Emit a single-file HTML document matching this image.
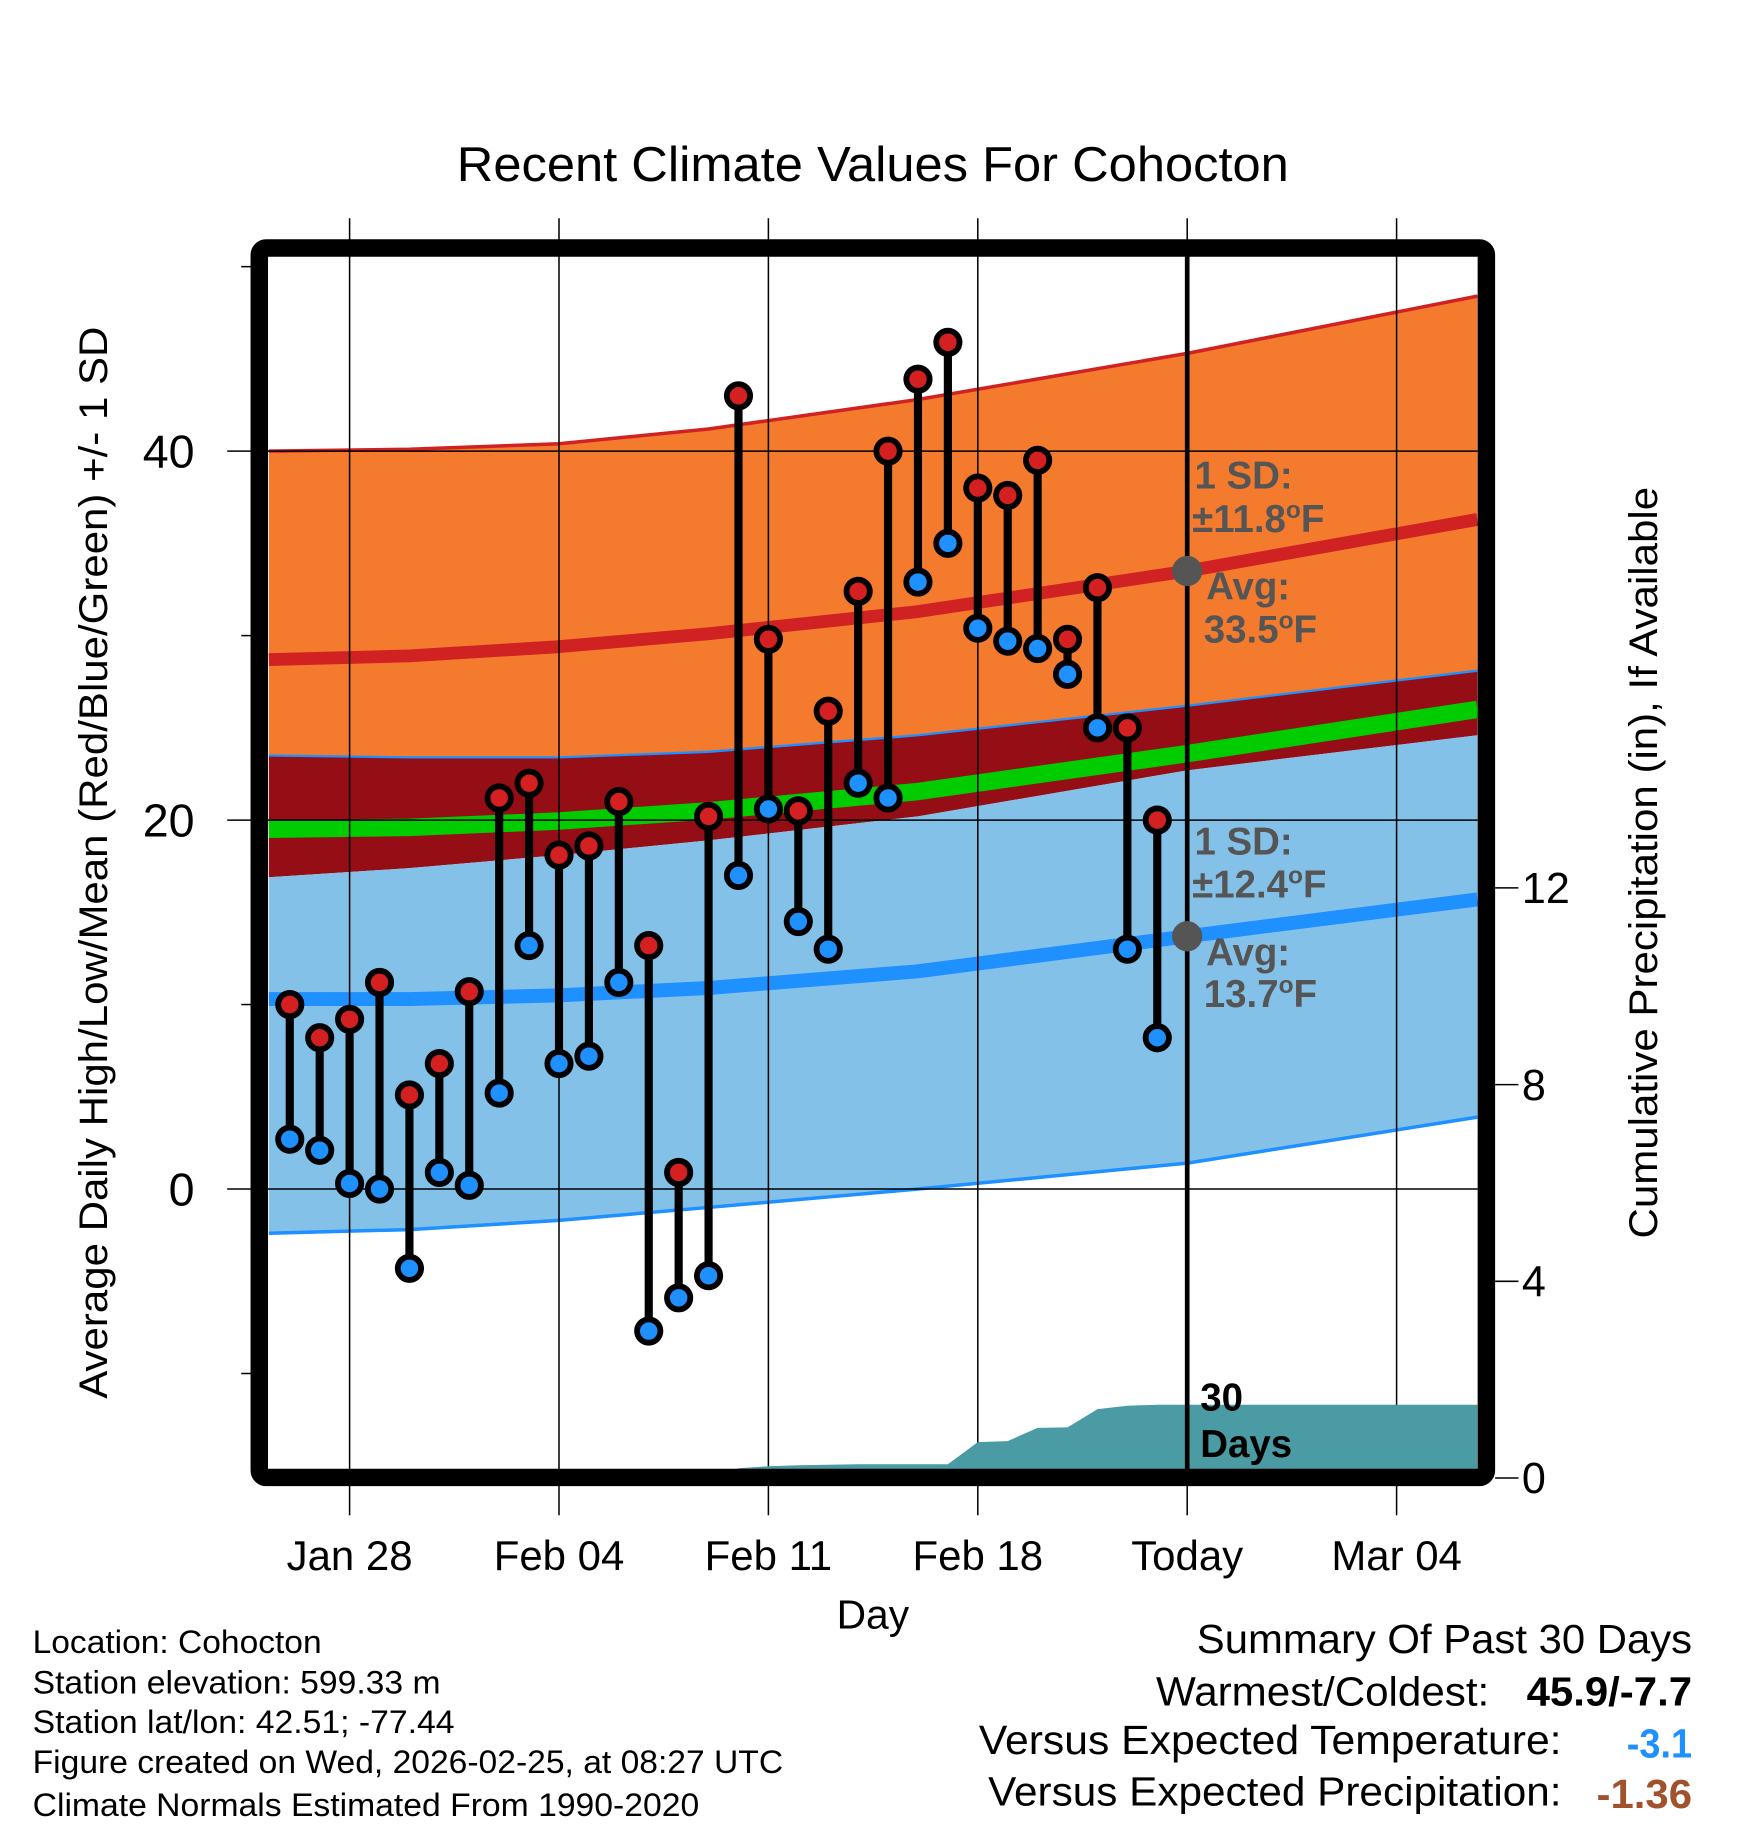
<!DOCTYPE html>
<html><head><meta charset="utf-8"><style>
html,body{margin:0;padding:0;background:#fff}
svg{display:block;font-family:"Liberation Sans",Arial,sans-serif}
</style></head><body>
<svg id="chart" width="1748" height="1828" viewBox="0 0 1500 1568" xmlns="http://www.w3.org/2000/svg">
<defs><clipPath id="plotclip"><rect x="229" y="219" width="1040" height="1042"/></clipPath></defs>
<rect width="1500" height="1568" fill="#fff"/>
<text x="392" y="155" font-size="42" textLength="714" lengthAdjust="spacingAndGlyphs">Recent Climate Values For Cohocton</text>
<g id="bands" clip-path="url(#plotclip)"></g>
<g id="grid"></g>
<g id="precip" clip-path="url(#plotclip)"></g>
<g id="marks"></g>
<g id="ann" font-weight="bold" fill="#555" font-size="33">
<text x="1025" y="419">1 SD:</text>
<text x="1023" y="456">±11.8<tspan dy="-12" font-size="21">o</tspan><tspan dy="12">F</tspan></text>
<text x="1035" y="514">Avg:</text>
<text x="1033" y="551">33.5<tspan dy="-12" font-size="21">o</tspan><tspan dy="12">F</tspan></text>
<text x="1025" y="733">1 SD:</text>
<text x="1023" y="770">±12.4<tspan dy="-12" font-size="21">o</tspan><tspan dy="12">F</tspan></text>
<text x="1035" y="828">Avg:</text>
<text x="1033" y="864">13.7<tspan dy="-12" font-size="21">o</tspan><tspan dy="12">F</tspan></text>
</g>
<text x="1030" y="1210" font-size="33" font-weight="bold">30</text>
<text x="1030" y="1250" font-size="33" font-weight="bold">Days</text>
<rect x="222.5" y="212.5" width="1053" height="1055" rx="6" fill="none" stroke="#000" stroke-width="15"/>
<g id="labels"></g>
<text transform="translate(92,740) rotate(-90)" font-size="34" text-anchor="middle" textLength="920" lengthAdjust="spacingAndGlyphs">Average Daily High/Low/Mean (Red/Blue/Green) +/- 1 SD</text>
<text transform="translate(1422,740) rotate(-90)" font-size="34" text-anchor="middle" textLength="645" lengthAdjust="spacingAndGlyphs">Cumulative Precipitation (in), If Available</text>
<text x="749" y="1397" font-size="35" text-anchor="middle">Day</text>
<g font-size="28" lengthAdjust="spacingAndGlyphs">
<text x="28" y="1418" textLength="248" lengthAdjust="spacingAndGlyphs">Location: Cohocton</text>
<text x="28" y="1453" textLength="350" lengthAdjust="spacingAndGlyphs">Station elevation: 599.33 m</text>
<text x="28" y="1487" textLength="362" lengthAdjust="spacingAndGlyphs">Station lat/lon: 42.51; -77.44</text>
<text x="28" y="1521" textLength="644" lengthAdjust="spacingAndGlyphs">Figure created on Wed, 2026-02-25, at 08:27 UTC</text>
<text x="28" y="1558" textLength="572" lengthAdjust="spacingAndGlyphs">Climate Normals Estimated From 1990-2020</text>
</g>
<g font-size="35">
<text x="1027" y="1418" textLength="425" lengthAdjust="spacingAndGlyphs">Summary Of Past 30 Days</text>
<text x="992" y="1463" textLength="286" lengthAdjust="spacingAndGlyphs">Warmest/Coldest:</text>
<text x="1310" y="1463" textLength="142" lengthAdjust="spacingAndGlyphs" font-weight="bold">45.9/-7.7</text>
<text x="840" y="1505" textLength="500" lengthAdjust="spacingAndGlyphs">Versus Expected Temperature:</text>
<text x="1396" y="1508" textLength="56" lengthAdjust="spacingAndGlyphs" font-weight="bold" fill="#1e90ff">-3.1</text>
<text x="848" y="1549" textLength="492" lengthAdjust="spacingAndGlyphs">Versus Expected Precipitation:</text>
<text x="1370" y="1551" textLength="82" lengthAdjust="spacingAndGlyphs" font-weight="bold" fill="#a0522d">-1.36</text>
</g>
</svg>
<script>
const days = [-2,-1,0,1,2,3,4,5,6,7,8,9,10,11,12,13,14,15,16,17,18,19,20,21,22,23,24,25,26,27];
const highs = [10,8.2,9.2,11.2,5.1,6.8,10.7,21.2,22,18.1,18.6,21,13.2,0.9,20.2,43,29.8,20.5,25.9,32.4,40,43.9,45.9,38,37.6,39.5,29.8,32.6,25,20];
const lows = [2.7,2.1,0.3,0,-4.3,0.9,0.2,5.2,13.2,6.8,7.2,11.2,-7.7,-5.9,-4.7,17,20.6,14.5,13,22,21.2,32.9,35,30.4,29.7,29.3,27.9,25,13,8.2];
const precipDays = [12,13,14,15,16,17,18,19,20,21,22,23,24,25,26,27,28,37.7];
const precipVals = [0,0.2,0.24,0.26,0.27,0.28,0.28,0.28,0.28,0.73,0.75,1.02,1.03,1.4,1.47,1.49,1.49,1.49];
const normDays = [-2.7,2,7,12,19,28,37.7];
const hiPlus = [40,40.1,40.4,41.2,42.8,45.3,48.4];
const hiMean = [28.7,28.9,29.4,30.1,31.3,33.5,36.3];
const hiMinus = [23.5,23.4,23.4,23.7,24.6,26.2,28.1];
const loPlus = [16.9,17.4,18.1,18.9,20.2,22.7,24.6];
const loMean = [10.3,10.3,10.5,10.9,11.8,13.7,15.7];
const loMinus = [-2.4,-2.2,-1.7,-1.0,0.0,1.4,3.9];
const xTickDays = [0,7,14,21,28,35];
const xTickLabels = ['Jan 28','Feb 04','Feb 11','Feb 18','Today','Mar 04'];
const yTicks = [0,20,40];
const yMinor = [-10,10,30,50];
const pTicks = [0,4,8,12];

const X = d => 300 + (d) * 25.67;
const Y = t => 1020 - t * 15.83;
const P = p => 1268 - p * 42.2;
const NS = 'http://www.w3.org/2000/svg';
function mk(tag, parent, attrs){const e=document.createElementNS(NS,tag);for(const k in attrs)e.setAttribute(k,attrs[k]);parent.appendChild(e);return e;}
const pts = (ds, vs, f) => ds.map((d,i)=>X(d).toFixed(1)+','+f(vs[i]).toFixed(1));

const bands = document.getElementById('bands');
function band(top, bot, fill, name){
  const p = pts(normDays, top, Y).concat(pts(normDays, bot, Y).reverse());
  const e = mk('polygon', bands, {points:p.join(' '), fill:fill});
  
  
}
function line(vals, color, w, name){
  const e = mk('polyline', bands, {points:pts(normDays, vals, Y).join(' '), fill:'none', stroke:color, 'stroke-width':w, 'stroke-linejoin':'round'});
  
  
}
band(hiPlus, hiMinus, '#f47a2e', 'high-sd-band');
band(hiMinus, loPlus, '#950d15', 'overlap-band');
band(loPlus, loMinus, '#84c1e8', 'low-sd-band');
const meanAll = hiMean.map((v,i)=>(v+loMean[i])/2);
line(meanAll, '#00cc00', 15, 'mean-line');
line(hiPlus, '#d02222', 3, 'high-plus-sd-line');
line(hiMean, '#d02222', 11, 'high-mean-line');
line(hiMinus, '#1e90ff', 2, 'high-minus-sd-line');
line(loMean, '#1e90ff', 12, 'low-mean-line');
line(loMinus, '#1e90ff', 3, 'low-minus-sd-line');

const grid = document.getElementById('grid');
xTickDays.forEach((d,i)=>{
  const e = mk('line', grid, {x1:X(d), x2:X(d), y1:187, y2:1300, stroke:'#000', 'stroke-width':1.3});
  
  
});
yTicks.forEach(t=>{
  const e = mk('line', grid, {x1:195, x2:1268, y1:Y(t), y2:Y(t), stroke:'#000', 'stroke-width':1.3});
  
  
});
yMinor.forEach(t=>{
  const e = mk('line', grid, {x1:207, x2:216, y1:Y(t), y2:Y(t), stroke:'#000', 'stroke-width':1.3});
  
  
});
pTicks.forEach(p=>{
  const e = mk('line', grid, {x1:1283, x2:1303, y1:P(p), y2:P(p), stroke:'#000', 'stroke-width':1.3});
  
  
});

const prec = document.getElementById('precip');
const pp = pts(precipDays, precipVals, P);
pp.push(X(precipDays[precipDays.length-1]).toFixed(1)+','+P(0)); pp.push(X(precipDays[0]).toFixed(1)+','+P(0));
const pa = mk('polygon', prec, {points:pp.join(' '), fill:'#4a9ba3'});


const tl = mk('line', prec, {x1:X(28), x2:X(28), y1:215, y2:1265, stroke:'#000', 'stroke-width':4});



const marks = document.getElementById('marks');
days.forEach((d,i)=>{
  const s = mk('line', marks, {x1:X(d), x2:X(d), y1:Y(highs[i]), y2:Y(lows[i]), stroke:'#000', 'stroke-width':7});
  
  
});
days.forEach((d,i)=>{
  const h = mk('circle', marks, {cx:X(d), cy:Y(highs[i]), r:10, fill:'#d42020', stroke:'#000', 'stroke-width':5});
  
  
  const l = mk('circle', marks, {cx:X(d), cy:Y(lows[i]), r:10, fill:'#1e90ff', stroke:'#000', 'stroke-width':5});
  
  
});
const g1 = mk('circle', marks, {cx:X(28), cy:Y(hiMean[5]), r:13, fill:'#555'});


const g2 = mk('circle', marks, {cx:X(28), cy:Y(loMean[5]), r:13, fill:'#555'});



const labels = document.getElementById('labels');
xTickDays.forEach((d,i)=>{
  const t = mk('text', labels, {x:X(d), y:1347, 'font-size':36, 'text-anchor':'middle'});
  t.textContent = xTickLabels[i];
  
  
});
yTicks.forEach(v=>{
  const t = mk('text', labels, {x:167, y:Y(v)+14, 'font-size':40, 'text-anchor':'end'});
  t.textContent = v;
  
  
});
pTicks.forEach(v=>{
  const t = mk('text', labels, {x:1306, y:P(v)+13, 'font-size':37});
  t.textContent = v;
  
  
});
</script>
</body></html>
